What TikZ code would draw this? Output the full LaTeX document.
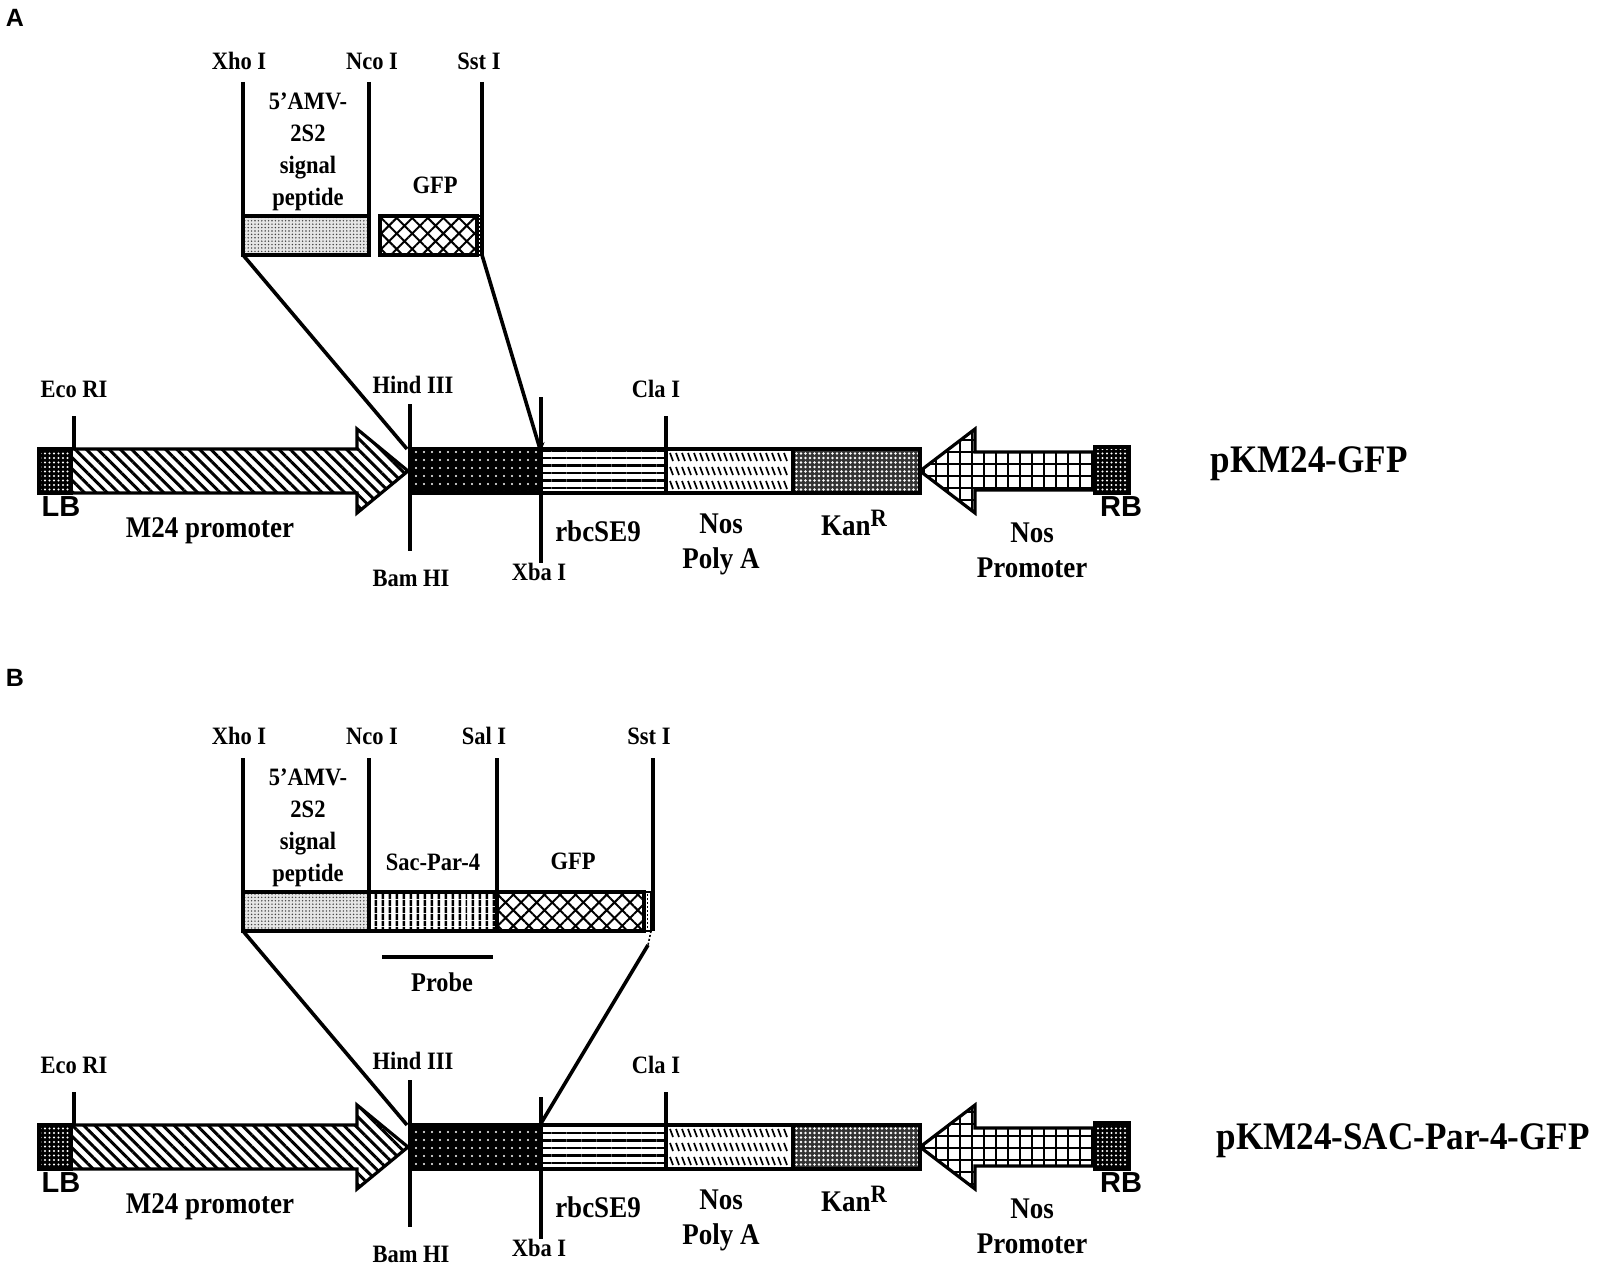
\documentclass[tikz,border=0pt]{standalone}
\usepackage{fontspec}
\setmainfont{Liberation Serif}[FakeStretch=0.9]
\newfontfamily\armfont{Liberation Sans}
\usetikzlibrary{patterns.meta,arrows.meta}
\tikzset{
  sm/.style={font=\fontsize{25}{27}\selectfont\bfseries, inner sep=0pt},
  md/.style={font=\fontsize{30}{35}\selectfont\bfseries, inner sep=0pt, align=center},
  ins/.style={font=\fontsize{25}{32}\selectfont\bfseries, inner sep=0pt, align=center},
  ttl/.style={font=\fontsize{39}{42}\selectfont\bfseries, inner sep=0pt},
  sf/.style={font=\fontsize{29}{31}\selectfont\armfont\bfseries, inner sep=0pt},
  seg/.style={draw=black, line width=3.2pt, inner sep=0pt, outer sep=0pt, anchor=north west},
  site/.style={line width=3.6pt},
  conn/.style={line width=3.6pt},
  blackdots/.style={preaction={fill=black}, pattern={Dots[distance=4.5pt,radius=1.2pt]}, pattern color=white},
  sparsedots/.style={preaction={fill=black}, pattern={Dots[distance=8pt,radius=1.1pt]}, pattern color=white},
  kanpat/.style={preaction={fill=black!80}, pattern={Dots[distance=4.5pt,radius=1.4pt]}, pattern color=white},
  hlines/.style={pattern={Lines[angle=0,distance=7.5pt,line width=2.4pt]}},
  vlines/.style={pattern={Lines[angle=90,distance=6.5pt,line width=2.6pt]}},
  diaglines/.style={pattern={Lines[angle=-45,distance=8pt,line width=3pt]}},
  gridpat/.style={pattern={Hatch[angle=0,distance=12pt,line width=1.8pt]}},
  gfppat/.style={pattern={Hatch[angle=45,distance=11pt,line width=2pt]}},
  sigpat/.style={preaction={fill=black!10}, pattern={Dots[distance=3.4pt,radius=0.8pt]}, pattern color=black!75},
}
\begin{document}
\begin{tikzpicture}[x=1pt,y=-1pt]
\useasboundingbox (0,0) rectangle (1600,1268);

% ---------------- backbones ----------------
\foreach \p/\dy in {a/0,b/676}{
\begin{scope}[shift={(0,\dy)}]
  % M24 promoter arrow
  \draw[line width=3.2pt, line join=miter, diaglines] (71,449) -- (357,449) -- (357,429) -- (408,471) -- (357,513) -- (357,493) -- (71,493) -- cycle;
  \node[seg, blackdots, minimum width=32pt, minimum height=44pt] (lb\p) at (39,449) {};
  \node[seg, sparsedots, minimum width=130pt, minimum height=44pt] (bam\p) at (410,449) {};
  \node[seg, hlines, minimum width=126pt, minimum height=44pt] (rbc\p) at (540,449) {};
  \node[seg, minimum width=127pt, minimum height=44pt] (nospa\p) at (666,449) {};
  \foreach \r in {457,471,485}{
    \foreach \x in {670,676,...,788}{
      \draw[line width=1.7pt] (\x,\r-4) -- (\x+3,\r+4);
    }
  }
  \node[seg, kanpat, minimum width=127pt, minimum height=44pt] (kan\p) at (793,449) {};
  % Nos promoter arrow
  \draw[line width=3.2pt, line join=miter, gridpat] (920,471) -- (975,429) -- (975,452) -- (1095,452) -- (1095,490) -- (975,490) -- (975,513) -- cycle;
  \node[seg, blackdots, minimum width=34pt, minimum height=46pt] (rb\p) at (1095,447) {};

  % sites
  \coordinate (hindtop\p) at (407,449);
  \coordinate (xbatop\p) at (540,449);
  \draw[site] (74,416) -- (74,449);
  \draw[site] (410,404) -- (410,551);
  \draw[site] (541,449) -- (541,563);
  \draw[site] (666,416) -- (666,449);

  % labels
  \node[sm] (eco\p) at (74,389) {Eco RI};
  \node[sm] (hind\p) at (413,385) {Hind III};
  \node[sm] (bamlbl\p) at (411,578) {Bam HI};
  \node[sm] (xba\p) at (539,572) {Xba I};
  \node[sm] (cla\p) at (656,389) {Cla I};
  \node[sf] (lblb\p) at (61,507) {LB};
  \node[sf] (lbrb\p) at (1121,507) {RB};
  \node[md] (m24\p) at (210,531) {M24 promoter};
  \node[md] (rbclbl\p) at (598,531) {rbcSE9};
  \node[md] (noslbl\p) at (721,544) {Nos\\Poly A};
  \node[md] (kanlbl\p) at (854,523) {Kan\raisebox{9pt}{\fontsize{25}{27}\selectfont R}};
  \node[md] (nosp\p) at (1032,550) {Nos\\Promoter};
\end{scope}
}
% Xba I upper parts
\draw[site, -{Stealth[length=10pt,width=7pt]}] (541,397) -- (541,452);
\draw[site] (541,1097) -- (541,1126);

% ---------------- insert A ----------------
\node[sf, font=\fontsize{25}{27}\selectfont\armfont\bfseries] (pa) at (15,18) {A};
\node[seg, sigpat, minimum width=126pt, minimum height=39pt] (siga) at (243,216) {};
\node[seg, gfppat, minimum width=97pt, minimum height=39pt] (gfpa) at (380,216) {};
\node[seg, line width=1.6pt, minimum width=5pt, minimum height=39pt] (enda) at (477,216) {};
\draw[line width=1.4pt, dash pattern=on 2pt off 2pt] (479.5,218) -- (479.5,253);
\draw[site] (243,82) -- (243,255);
\draw[site] (369,82) -- (369,255);
\draw[site] (482,82) -- (482,255);
\node[sm] (xhoa) at (239,61) {Xho I};
\node[sm] (ncoa) at (372,61) {Nco I};
\node[sm] (ssta) at (479,61) {Sst I};
\node[ins] (sptxta) at (308,152) {5’AMV-\\2S2\\signal\\peptide};
\node[ins] (gfptxta) at (435,185) {GFP};
\draw[conn] (siga.south west) -- (hindtopa);
\draw[conn] (enda.south east) -- (xbatopa);
\node[ttl] (ttla) at (1309,464) {pKM24-GFP};

% ---------------- insert B ----------------
\node[sf, font=\fontsize{25}{27}\selectfont\armfont\bfseries] (pb) at (15,678) {B};
\node[seg, sigpat, minimum width=126pt, minimum height=39pt] (sigb) at (243,892) {};
\node[seg, vlines, minimum width=128pt, minimum height=39pt] (sacb) at (369,892) {};
\node[seg, gfppat, minimum width=147pt, minimum height=39pt] (gfpb) at (497,892) {};
\node[seg, line width=1.6pt, minimum width=7pt, minimum height=39pt] (endb) at (644,892) {};
\draw[line width=1.4pt, dash pattern=on 2pt off 2pt] (647.5,894) -- (647.5,929);
\draw[site] (243,758) -- (243,931);
\draw[site] (369,758) -- (369,931);
\draw[site] (497,758) -- (497,931);
\draw[site] (653,758) -- (653,931);
\node[sm] (xhob) at (239,736) {Xho I};
\node[sm] (ncob) at (372,736) {Nco I};
\node[sm] (salb) at (484,736) {Sal I};
\node[sm] (sstb) at (649,736) {Sst I};
\node[ins] (sptxtb) at (308,828) {5’AMV-\\2S2\\signal\\peptide};
\node[ins] (sactxt) at (433,862) {Sac-Par-4};
\node[ins] (gfptxtb) at (573,861) {GFP};
\coordinate (probel) at (382,957);
\coordinate (prober) at (493,957);
\draw[line width=4.5pt] (probel) -- (prober);
\node[md, font=\fontsize{27}{29}\selectfont\bfseries] (probelbl) at (442,982) {Probe};
\coordinate (sstfoot) at (648,945);
\draw[line width=1.6pt, dash pattern=on 2pt off 2pt] (endb.south east) -- (sstfoot);
\draw[conn] (sigb.south west) -- (hindtopb);
\draw[conn] (sstfoot) -- (xbatopb);
\node[ttl] (ttlb) at (1403,1141) {pKM24-SAC-Par-4-GFP};
\end{tikzpicture}
\end{document}
